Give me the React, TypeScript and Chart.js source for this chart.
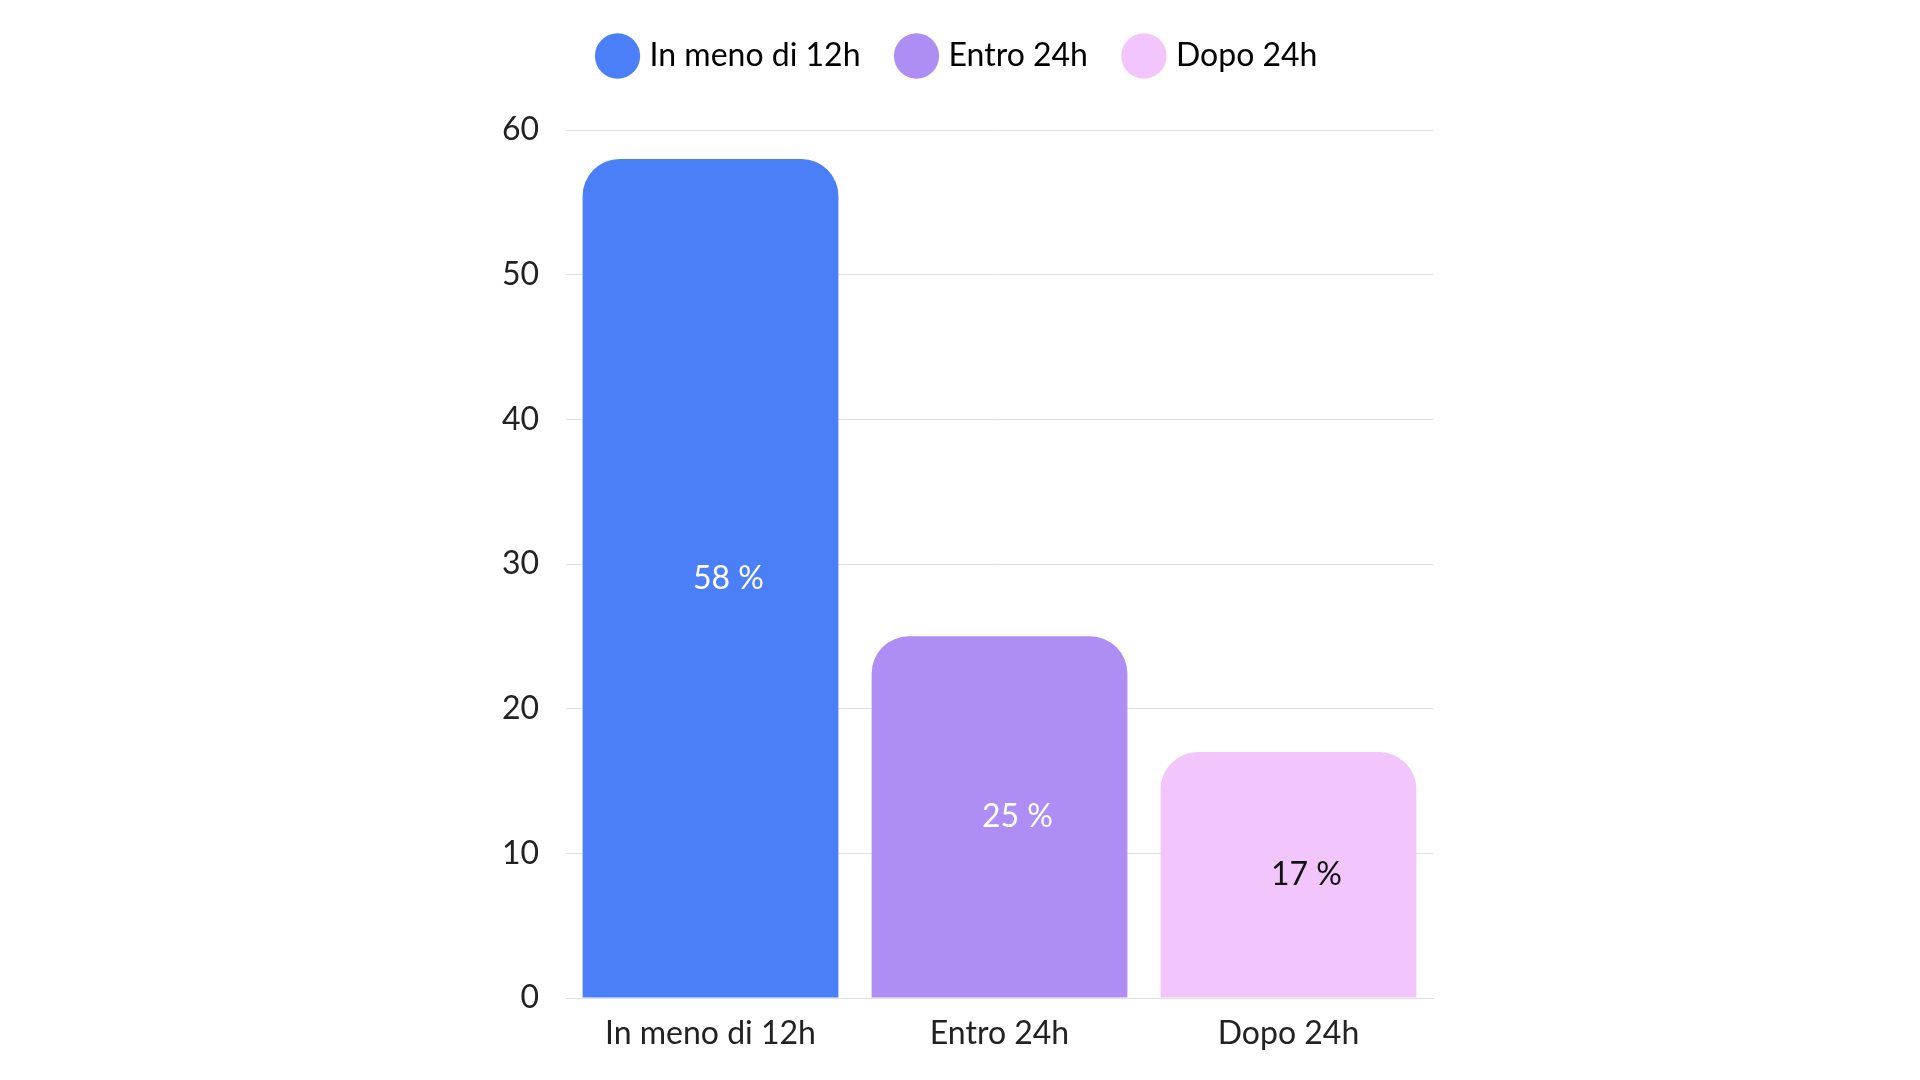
import React, { useEffect, useRef } from "react";
import { Chart, registerables } from "chart.js";
Chart.register(...registerables);

const categories = ["In meno di 12h", "Entro 24h", "Dopo 24h"];
const values = [58, 25, 17];
const colors = ["#4b7ff8", "#ae8ef4", "#f2c6fd"];
const labelColors = ["#ffffff", "#ffffff", "#111111"];
const yTicks = [0, 10, 20, 30, 40, 50, 60];

const FONT = "Lato, 'Open Sans', sans-serif";

export default function App() {
  const ref = useRef<HTMLCanvasElement>(null);
  useEffect(() => {
    const legendFit = {
      id: "legendFit",
      beforeInit(chart: any) {
        const lg = chart.legend;
        if (lg) {
          const orig = lg.fit;
          lg.fit = function () {
            orig.call(this);
            this.height = 130;
          };
        }
      },
    };
    const valueLabels = {
      id: "valueLabels",
      afterDatasetsDraw(chart: any) {
        const ctx = chart.ctx;
        const meta = chart.getDatasetMeta(0);
        ctx.save();
        ctx.font = `32px ${FONT}`;
        ctx.textAlign = "center";
        ctx.textBaseline = "middle";
        meta.data.forEach((bar: any, i: number) => {
          ctx.fillStyle = labelColors[i];
          ctx.fillText(values[i] + " %", bar.x + 18, (bar.y + bar.base) / 2);
        });
        ctx.restore();
      },
    };
    const chart = new Chart(ref.current!, {
      type: "bar",
      data: {
        labels: categories,
        datasets: [
          {
            data: values,
            backgroundColor: colors,
            borderRadius: { topLeft: 37, topRight: 37, bottomLeft: 0, bottomRight: 0 },
            borderSkipped: false,
            categoryPercentage: 1,
            barPercentage: 0.885,
          },
        ],
      },
      options: {
        responsive: false,
        animation: false,
        layout: { padding: { left: 486, right: 487, top: 0, bottom: 22 } },
        plugins: {
          tooltip: { enabled: false },
          legend: {
            position: "top",
            labels: {
              font: { family: FONT, size: 32 },
              color: "#222",
              usePointStyle: true,
              pointStyle: "circle",
              boxHeight: 36,
              padding: 40,
              generateLabels: () =>
                categories.map((c, i) => ({
                  text: c,
                  fillStyle: colors[i],
                  strokeStyle: colors[i],
                  lineWidth: 0,
                  pointStyle: "circle",
                  hidden: false,
                  index: i,
                })),
            },
            onClick: () => {},
          },
        },
        scales: {
          x: {
            grid: { display: false },
            border: { display: true, color: "#e0e0e0" },
            ticks: { font: { family: FONT, size: 32 }, color: "#222", padding: 8 },
            afterFit: (s: any) => { s.height = 60; },
          },
          y: {
            min: 0,
            max: 60,
            afterBuildTicks: (s: any) => { s.ticks = yTicks.map((v) => ({ value: v })); },
            grid: { color: "#e0e0e0", drawTicks: false },
            border: { display: false },
            ticks: { font: { family: FONT, size: 32 }, color: "#222", padding: 27 },
            afterFit: (s: any) => { s.width = 80; },
          },
        },
      },
      plugins: [legendFit, valueLabels],
    });
    return () => chart.destroy();
  }, []);
  return (
    <div style={{ position: "absolute", left: 0, top: 0, width: 1920, height: 1080, background: "#fff" }}>
      <canvas ref={ref} width={1920} height={1080} />
    </div>
  );
}
